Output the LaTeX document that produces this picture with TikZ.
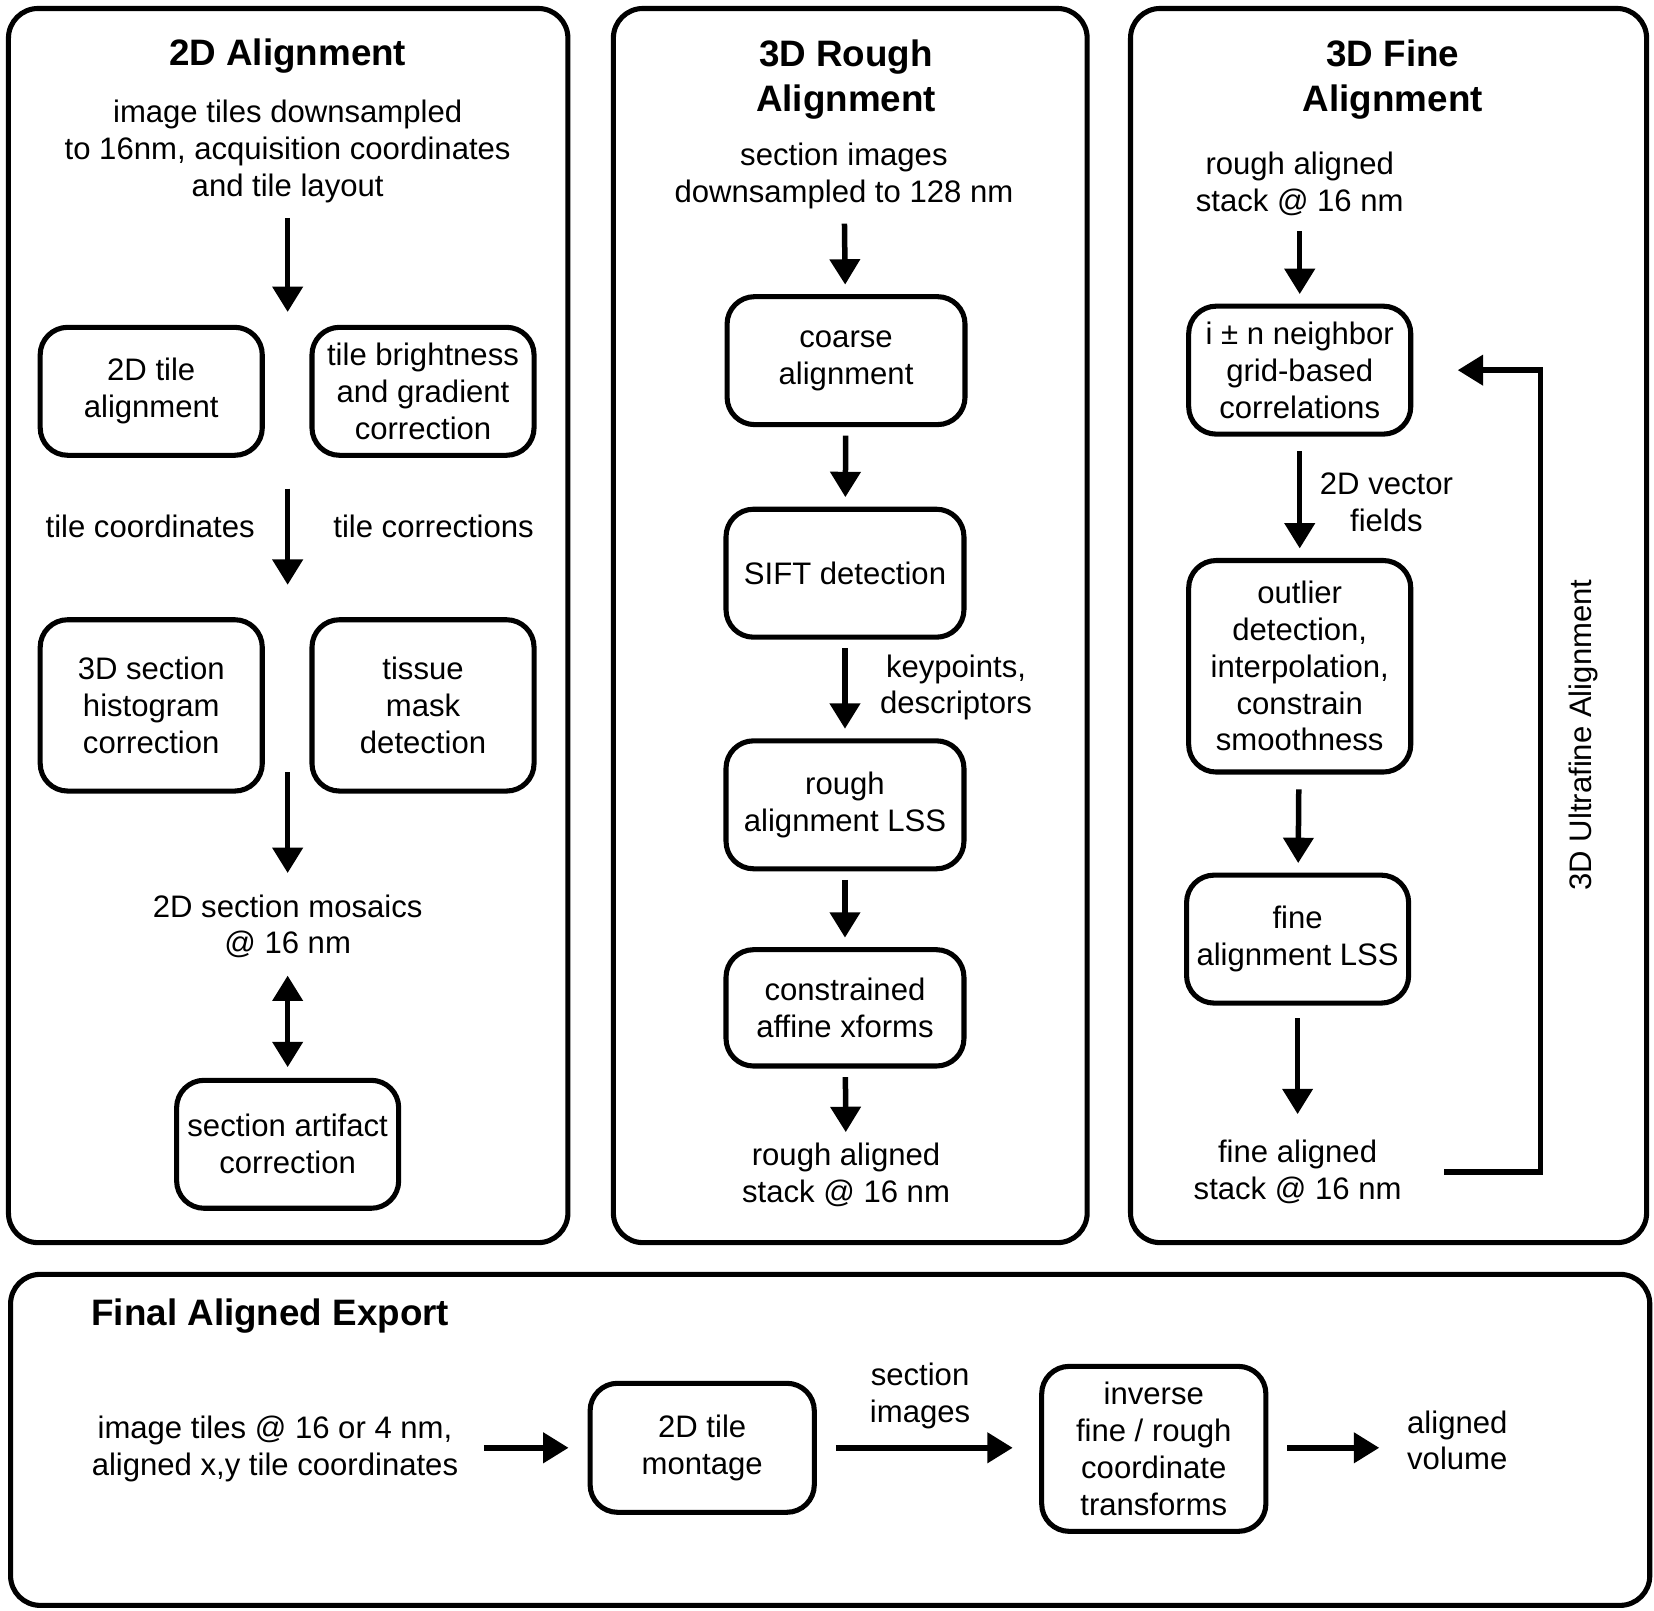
\documentclass[tikz,border=0pt]{standalone}
\usepackage{fontspec}
\setmainfont{Liberation Sans}
\usetikzlibrary{positioning,arrows.meta}

\begin{document}
\begin{tikzpicture}[
    x=0.5pt, y=-0.5pt,
    font=\fontsize{14.7pt}{17.4pt}\selectfont,
    panel/.style={draw, line width=2.4pt, rounded corners=14pt},
    box/.style={draw, line width=2.4pt, rounded corners=13pt, align=center,
        inner sep=1pt, minimum width=105pt, minimum height=60.5pt},
    txt/.style={align=center, inner sep=0pt},
    head/.style={align=center, inner sep=0pt,
        font=\fontsize{17.4pt}{21.5pt}\selectfont\bfseries},
    arr/.style={-{Triangle[length=12pt,width=14pt]}, line width=2.6pt,
        shorten <=4pt, shorten >=4.5pt},
    darr/.style={{Triangle[length=12pt,width=14pt]}-{Triangle[length=12pt,width=14pt]},
        line width=2.6pt}
]
    \useasboundingbox (0,0) rectangle (1564,1523);

    % panels
    \draw[panel] (8,8) rectangle (537,1175);
    \draw[panel] (580,8) rectangle (1028,1175);
    \draw[panel] (1069,8) rectangle (1557,1175);
    \draw[panel] (10,1205) rectangle (1560,1518);

    % 2D alignment
    \node[head] (h2d) at (272,53) {2D Alignment};
    \node[txt] (tiles) at (272,143) {image tiles downsampled\\to 16nm, acquisition coordinates\\and tile layout};
    \node[box] (tilealign) at (143,370) {2D tile\\alignment};
    \node[box] (bright) at (400,370) {tile brightness\\and gradient\\correction};
    \node[txt] (tcoord) at (142,498) {tile coordinates};
    \node[txt] (tcorr) at (410,498) {tile corrections};
    \node[box, minimum height=81pt] (hist) at (143,667) {3D section\\histogram\\correction};
    \node[box, minimum height=81pt] (mask) at (400,667) {tissue\\mask\\detection};
    \node[txt] (mosaic) at (272,876) {2D section mosaics\\@ 16 nm};
    \node[box] (artifact) at (272,1082) {section artifact\\correction};

    \coordinate (gapA) at (272,295);
    \coordinate (midA) at (272,462);
    \coordinate (midB) at (272,553);
    \coordinate (lowA) at (272,730);
    \draw[arr, shorten <=7pt, shorten >=0pt] (tiles) -- (gapA);
    \draw[arr, shorten <=0pt, shorten >=0pt] (midA) -- (midB);
    \draw[arr, shorten <=0pt, shorten >=10pt] (lowA) -- (mosaic);
    \draw[darr, shorten <=8pt, shorten >=5pt] (mosaic) -- (artifact);

    % 3D rough alignment
    \node[head] (hrough) at (800,75) {3D Rough\\Alignment};
    \node[txt] (secimg) at (798,166) {section images\\downsampled to 128 nm};
    \node[box, minimum width=112.5pt] (coarse) at (800,341) {coarse\\alignment};
    \node[box, minimum width=112.5pt] (sift) at (799,542) {SIFT detection};
    \node[box, minimum width=112.5pt] (roughlss) at (799,761) {rough\\alignment LSS};
    \node[box, minimum width=112.5pt, minimum height=55pt] (affine) at (799,953) {constrained\\affine xforms};
    \node[txt] (roughstack) at (800,1111) {rough aligned\\stack @ 16 nm};
    \node[txt] (keyp) at (904,650) {keypoints,\\descriptors};

    \draw[arr, shorten <=7pt] (secimg) -- (coarse);
    \draw[arr] (coarse) -- (sift);
    \draw[arr] (sift) -- (roughlss);
    \draw[arr] (roughlss) -- (affine);
    \draw[arr, shorten >=5pt] (affine) -- (roughstack);

    % 3D fine alignment
    \node[head] (hfine) at (1317,75) {3D Fine\\Alignment};
    \node[txt] (rstack) at (1229,174) {rough aligned\\stack @ 16 nm};
    \node[box] (corr) at (1229,350) {i ± n neighbor\\grid-based\\correlations};
    \node[box, minimum height=100pt] (outlier) at (1229,630) {outlier\\detection,\\interpolation,\\constrain\\smoothness};
    \node[box] (finelss) at (1227,888) {fine\\alignment LSS};
    \node[txt] (fstack) at (1227,1108) {fine aligned\\stack @ 16 nm};
    \node[txt] (vecf) at (1311,475) {2D vector\\fields};
    \node[rotate=90] (ultra) at (1497,695) {3D Ultrafine Alignment};

    \draw[arr, shorten <=7pt] (rstack) -- (corr);
    \draw[arr, shorten <=7pt] (corr) -- (outlier);
    \draw[arr, shorten <=7pt] (outlier) -- (finelss);
    \draw[arr, shorten <=6pt, shorten >=12pt] (finelss) -- (fstack);
    \draw[arr, shorten <=20pt, shorten >=21pt] (fstack.east) -- ++(131,0) |- (corr.east);

    % final aligned export
    \node[head, anchor=west] (hexport) at (86,1244) {Final Aligned Export};
    \node[txt] (input) at (260,1370) {image tiles @ 16 or 4 nm,\\aligned x,y tile coordinates};
    \node[box, minimum width=106pt, minimum height=61pt] (montage) at (664,1369) {2D tile\\montage};
    \node[box, minimum width=106pt, minimum height=78pt] (inverse) at (1091,1370) {inverse\\fine / rough\\coordinate\\transforms};
    \node[txt] (volume) at (1378,1362) {aligned\\volume};
    \node[txt] (secimg2) at (870,1320) {section\\images};

    \draw[arr, shorten <=12pt, shorten >=9pt] (input.east |- montage) -- (montage);
    \draw[arr, shorten <=9pt, shorten >=12.5pt] (montage) -- (inverse.west |- montage);
    \draw[arr, shorten <=9pt, shorten >=13pt] (inverse.east |- montage) -- (volume.west |- montage);
\end{tikzpicture}
\end{document}
